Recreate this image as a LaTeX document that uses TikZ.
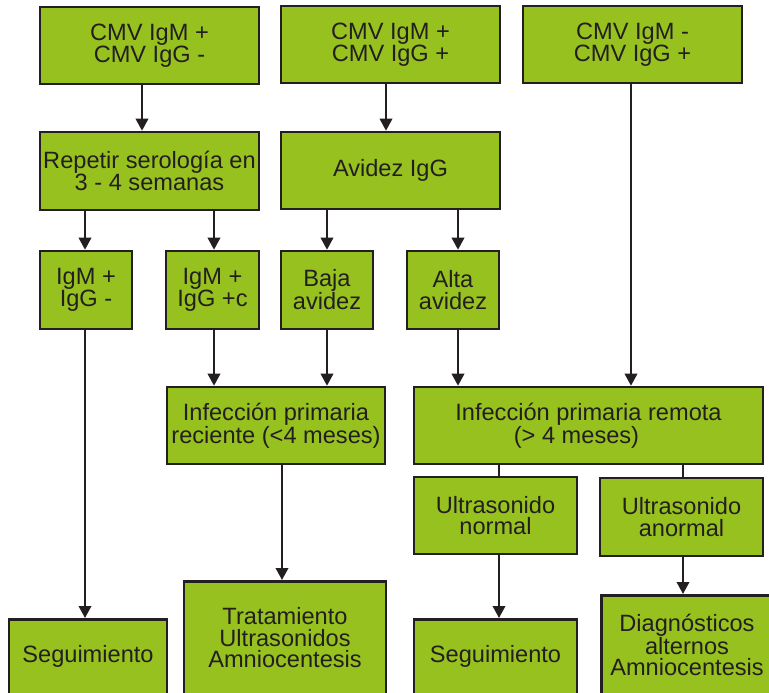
\documentclass[tikz,border=0pt]{standalone}
\usepackage{fontspec}
\setmainfont{Liberation Sans}
\usetikzlibrary{arrows.meta}
\definecolor{boxgreen}{HTML}{97C11F}
\definecolor{ink}{HTML}{231F20}
\newcommand\boxfont{\fontsize{23.6}{21.5}\selectfont}
\begin{document}
\begin{tikzpicture}[x=1pt,y=-1pt,
  box/.style={draw=ink, line width=2.6pt, fill=boxgreen, inner sep=0pt, align=center, font=\boxfont, text=ink},
  txt/.style={inner sep=0pt, align=center, font=\boxfont, text=ink},
  conn/.style={draw=ink, line width=2pt},
  arr/.style={conn, -{Triangle[length=12pt,width=12.5pt]}}]
\useasboundingbox (0,0) rectangle (769,693);
\clip (0,0) rectangle (769,693);
% row 1
\node[box, minimum width=219, minimum height=77] (a1) at (149.5,45.5) {CMV IgM +\\CMV IgG -};
\node[box, minimum width=219, minimum height=77] (a2) at (390.5,44.5) {CMV IgM +\\CMV IgG +};
\node[box, minimum width=219, minimum height=77] (a3) at (632.5,44.5) {CMV IgM -\\CMV IgG +};
% row 2
\node[box, minimum width=219, minimum height=78] (rep) at (149.5,171) {Repetir serología en\\3 - 4 semanas};
\node[box, minimum width=219, minimum height=77] (avi) at (390.5,170.5) {Avidez IgG};
% row 3
\node[box, minimum width=92, minimum height=78] (ra) at (86,290) {IgM +\\IgG -};
\node[box, minimum width=93, minimum height=78] (rb) at (212.5,290) {IgM +\\IgG +c};
\node[box, minimum width=92, minimum height=78] (rc) at (327,290) {Baja\\avidez};
\node[box, minimum width=92, minimum height=78] (rd) at (453,290) {Alta\\avidez};
% row 4
\node[box, minimum width=218, minimum height=77] (rec) at (276,425.5) {Infección primaria\\reciente (<4 meses)};
\node[box, minimum width=349, minimum height=77] (rem) at (588.5,425.5) {Infección primaria remota\\(> 4 meses)\hspace*{24pt}};
% row 5
\node[box, minimum width=163, minimum height=77] (usn) at (495.5,515.5) {Ultrasonido\\normal};
\node[box, minimum width=163, minimum height=78] (usa) at (681.5,517) {Ultrasonido\\anormal};
% bottom row (cut by the lower edge)
\node[box, anchor=north, minimum width=158, minimum height=120] (seg1) at (88,618) {};
\node[txt] (seg1t) at (88,656) {Seguimiento};
\node[box, anchor=north, minimum width=202, minimum height=140] (tra) at (285,580) {};
\node[txt] (trat) at (285,638) {Tratamiento\\Ultrasonidos\\Amniocentesis};
\node[box, anchor=north, minimum width=163, minimum height=120] (seg2) at (495.5,618) {};
\node[txt] (seg2t) at (495.5,656) {Seguimiento};
\node[box, anchor=north west, minimum width=200, minimum height=130] (dia) at (600,594) {};
\node[txt] (diat) at (687,645) {Diagnósticos\\alternos\\Amniocentesis};
% connectors
\draw[arr] (142,0 |- a1.south) -- (142,0 |- rep.north);
\draw[arr] (386,0 |- a2.south) -- (386,0 |- avi.north);
\draw[arr] (631,0 |- a3.south) -- (631,0 |- rem.north);
\draw[arr] (85,0 |- rep.south) -- (85,0 |- ra.north);
\draw[arr] (214,0 |- rep.south) -- (214,0 |- rb.north);
\draw[arr] (327,0 |- avi.south) -- (327,0 |- rc.north);
\draw[arr] (458,0 |- avi.south) -- (458,0 |- rd.north);
\draw[arr] (214,0 |- rb.south) -- (214,0 |- rec.north);
\draw[arr] (327,0 |- rc.south) -- (327,0 |- rec.north);
\draw[arr] (458,0 |- rd.south) -- (458,0 |- rem.north);
\draw[arr] (85,0 |- ra.south) -- (85,0 |- seg1.north);
\draw[arr] (282,0 |- rec.south) -- (282,0 |- tra.north);
\draw[conn] (499,0 |- rem.south) -- (499,0 |- usn.north);
\draw[conn] (683,0 |- rem.south) -- (683,0 |- usa.north);
\draw[arr] (499,0 |- usn.south) -- (499,0 |- seg2.north);
\draw[arr] (683,0 |- usa.south) -- (683,0 |- dia.north);
\end{tikzpicture}
\end{document}
